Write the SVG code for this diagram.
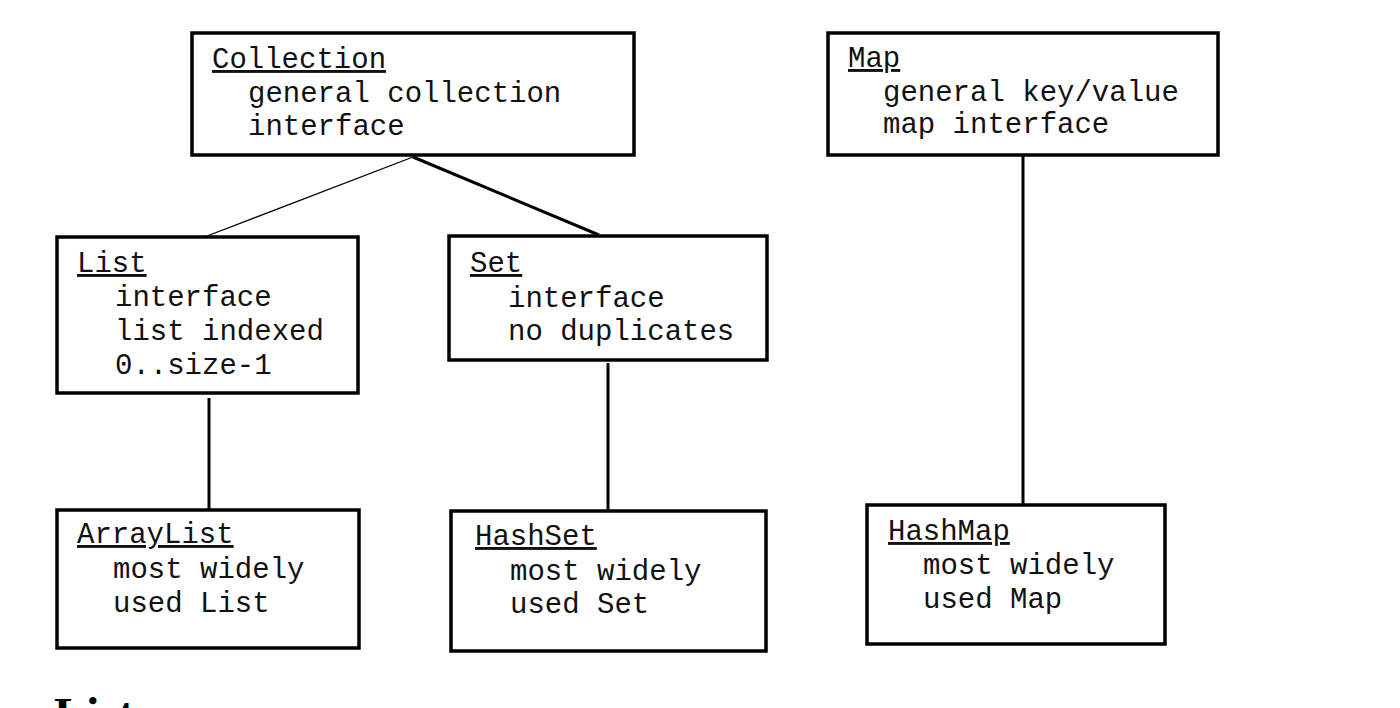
<svg xmlns="http://www.w3.org/2000/svg" width="1400" height="708" viewBox="0 0 1400 708">
<style>
.box{fill:#fff;stroke:#000;stroke-width:3.5}
.t{font-family:"Liberation Mono","Courier New",monospace;font-size:29px;fill:#111}
.h{text-decoration:underline}
.c{stroke:#000;fill:none;stroke-width:3}
.thin{stroke-width:1.3}
</style>
<rect width="1400" height="708" fill="#fff"/>
<g id="connectors">
<line class="c thin" x1="413" y1="157" x2="207" y2="236"/>
<line class="c" x1="413" y1="157" x2="599" y2="235"/>
<line class="c" x1="209" y1="398" x2="209" y2="510"/>
<line class="c" x1="608" y1="363" x2="608" y2="511"/>
<line class="c" x1="1023" y1="155" x2="1023" y2="505"/>
</g>
<g id="collection">
<rect class="box" x="192" y="33" width="442" height="122"/>
<text class="t h" x="212" y="68">Collection</text>
<text class="t" x="248" y="102">general collection</text>
<text class="t" x="248" y="135">interface</text>
</g>
<g id="map">
<rect class="box" x="828" y="33" width="390" height="122"/>
<text class="t h" x="848" y="67">Map</text>
<text class="t" x="883" y="101">general key/value</text>
<text class="t" x="883" y="133">map interface</text>
</g>
<g id="list">
<rect class="box" x="57" y="237" width="301" height="156"/>
<text class="t h" x="77" y="272">List</text>
<text class="t" x="115" y="306">interface</text>
<text class="t" x="115" y="340">list indexed</text>
<text class="t" x="115" y="374">0..size-1</text>
</g>
<g id="set">
<rect class="box" x="449" y="236" width="318" height="124"/>
<text class="t h" x="470" y="272">Set</text>
<text class="t" x="508" y="307">interface</text>
<text class="t" x="508" y="340">no duplicates</text>
</g>
<g id="arraylist">
<rect class="box" x="57" y="510" width="302" height="138"/>
<text class="t h" x="77" y="543">ArrayList</text>
<text class="t" x="113" y="578">most widely</text>
<text class="t" x="113" y="612">used List</text>
</g>
<g id="hashset">
<rect class="box" x="451" y="511" width="315" height="140"/>
<text class="t h" x="475" y="545">HashSet</text>
<text class="t" x="510" y="580">most widely</text>
<text class="t" x="510" y="613">used Set</text>
</g>
<g id="hashmap">
<rect class="box" x="867" y="505" width="298" height="139"/>
<text class="t h" x="888" y="540">HashMap</text>
<text class="t" x="923" y="574">most widely</text>
<text class="t" x="923" y="608">used Map</text>
</g>
<text x="54" y="731" font-family="Liberation Serif, Times New Roman, serif" font-weight="bold" font-size="48">List</text>
</svg>
